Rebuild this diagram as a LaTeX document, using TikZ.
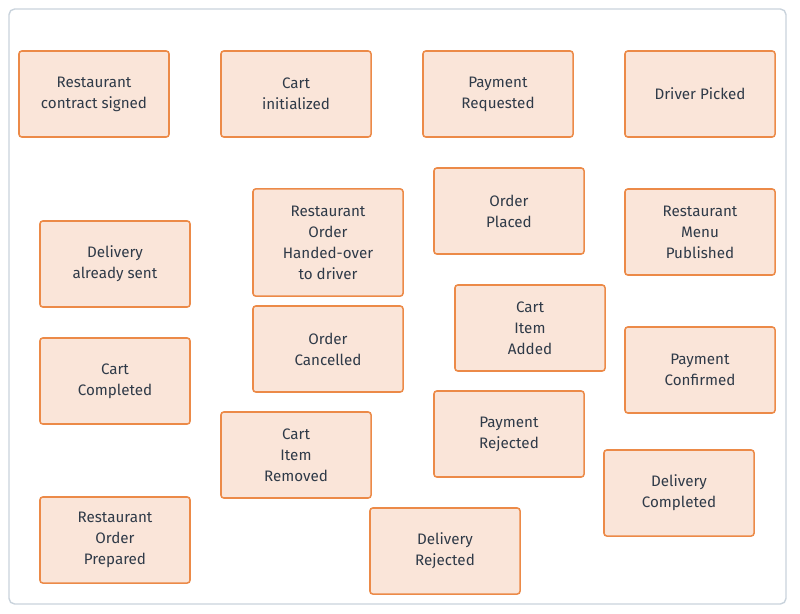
\documentclass[tikz,border=0pt]{standalone}
\usepackage{fontspec}
\setmainfont{Fira Sans}
\usepackage{tikz}
\usetikzlibrary{positioning}
\definecolor{evfill}{HTML}{FAE5D9}
\definecolor{evdraw}{HTML}{EC8A48}
\definecolor{evtext}{HTML}{2F3A48}
\definecolor{frame}{HTML}{C9D3DC}

\begin{document}
\begin{tikzpicture}[x=0.025cm, y=-0.025cm,
    event/.style={draw=evdraw, fill=evfill, line width=1.1pt, rounded corners=2pt,
        minimum width=3.75cm, minimum height=2.15cm, align=center,
        text=evtext, font=\fontsize{10.8}{15}\selectfont}]
    \useasboundingbox (0,0) rectangle (800,613);
    \draw[frame, line width=1pt, rounded corners=4pt] (9,9) rectangle (786,604);
    % top row
    \node[event] (signed) at (94,94) {Restaurant\\contract signed};
    \node[event] (cartinit) at (296,94) {Cart\\initialized};
    \node[event] (payreq) at (498,94) {Payment\\Requested};
    \node[event] (driver) at (700,94) {Driver Picked};
    % scattered events
    \node[event] (sent) at (115,264) {Delivery\\already sent};
    \node[event, minimum height=2.68cm] (handed) at (328,242.5) {Restaurant\\Order\\Handed-over\\to driver};
    \node[event] (placed) at (509,211) {Order\\Placed};
    \node[event] (menu) at (700,232) {Restaurant\\Menu\\Published};
    \node[event] (cartdone) at (115,381) {Cart\\Completed};
    \node[event] (cancelled) at (328,349) {Order\\Cancelled};
    \node[event] (added) at (530,328) {Cart\\Item\\Added};
    \node[event] (payok) at (700,370) {Payment\\Confirmed};
    \node[event] (removed) at (296,455) {Cart\\Item\\Removed};
    \node[event] (payfail) at (509,434) {Payment\\Rejected};
    \node[event] (delivered) at (679,493) {Delivery\\Completed};
    \node[event] (prepared) at (115,540) {Restaurant\\Order\\Prepared};
    \node[event] (rejected) at (445,551) {Delivery\\Rejected};
\end{tikzpicture}
\end{document}
